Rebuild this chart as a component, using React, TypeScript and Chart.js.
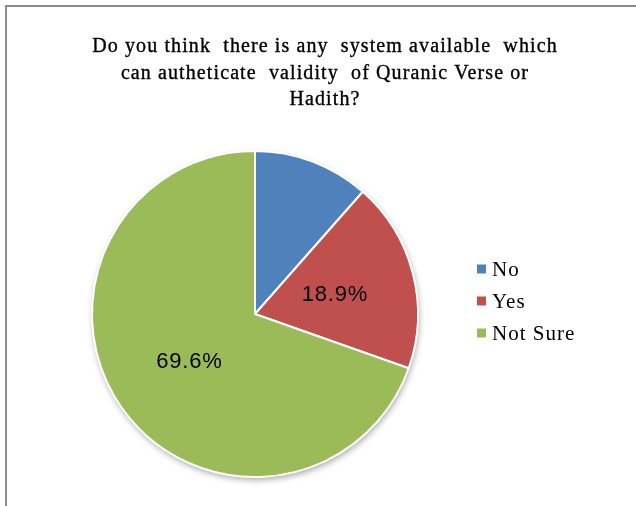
import React, { useEffect, useRef } from "react";
import { Chart, registerables } from "chart.js";

Chart.register(...registerables);

// Survey answers and their shares (%)
const answers = ["No", "Yes", "Not Sure"];
const shares = [11.5, 18.9, 69.6];
const showShareLabel = [false, true, true];
const sliceColors = ["#4F81BD", "#C0504D", "#9BBB59"];
const titleLines = [
  "Do you think  there is any  system available  which",
  "can autheticate  validity  of Quranic Verse or",
  "Hadith?",
];

const framePlugin = {
  id: "frame",
  beforeDraw(chart: any) {
    const { ctx, width, height } = chart;
    ctx.save();
    ctx.fillStyle = "#ffffff";
    ctx.fillRect(0, 0, width, height);
    ctx.fillStyle = "#8c8c8c";
    ctx.fillRect(5, 5, width - 5, 2);
    ctx.fillRect(5, 5, 2, height - 5);
    ctx.restore();
  },
};

const titlePlugin = {
  id: "surveyTitle",
  afterDraw(chart: any) {
    const { ctx } = chart;
    ctx.save();
    ctx.fillStyle = "#000";
    ctx.strokeStyle = "#000";
    ctx.lineWidth = 0.35;
    ctx.font = "20px 'Liberation Serif'";
    (ctx as any).letterSpacing = "1.1px";
    ctx.textAlign = "center";
    ctx.textBaseline = "alphabetic";
    titleLines.forEach((line, i) => {
      ctx.fillText(line, 325, 52 + i * 26.5);
      ctx.strokeText(line, 325, 52 + i * 26.5);
    });
    ctx.restore();
  },
};

const shadowPlugin = {
  id: "pieShadow",
  beforeDatasetsDraw(chart: any) {
    const arc = chart.getDatasetMeta(0).data[0];
    if (!arc) return;
    const { ctx } = chart;
    ctx.save();
    ctx.shadowColor = "rgba(0,0,0,0.35)";
    ctx.shadowBlur = 6;
    ctx.shadowOffsetX = 1;
    ctx.shadowOffsetY = 3;
    ctx.fillStyle = "#ffffff";
    ctx.beginPath();
    ctx.arc(arc.x, arc.y, arc.outerRadius, 0, Math.PI * 2);
    ctx.fill();
    ctx.restore();
  },
};

const sliceLabelPlugin = {
  id: "sliceLabels",
  afterDatasetsDraw(chart: any) {
    const { ctx } = chart;
    const meta = chart.getDatasetMeta(0);
    ctx.save();
    ctx.fillStyle = "#000";
    ctx.font = "22px 'Liberation Sans'";
    (ctx as any).letterSpacing = "0.8px";
    ctx.textAlign = "center";
    ctx.textBaseline = "middle";
    meta.data.forEach((arc: any, i: number) => {
      if (!showShareLabel[i]) return;
      const p = arc.tooltipPosition();
      ctx.fillText(shares[i].toFixed(1) + "%", p.x + 1, p.y + 1);
    });
    ctx.restore();
  },
};

const legendPlugin = {
  id: "sideLegend",
  afterDraw(chart: any) {
    const { ctx } = chart;
    ctx.save();
    ctx.font = "21px 'Liberation Serif'";
    (ctx as any).letterSpacing = "1px";
    ctx.textBaseline = "middle";
    ctx.textAlign = "left";
    answers.forEach((name, i) => {
      const y = 269 + i * 32;
      ctx.fillStyle = sliceColors[i];
      ctx.fillRect(477, y - 4.5, 9, 9);
      ctx.fillStyle = "#000";
      ctx.fillText(name, 492, y + 1);
    });
    ctx.restore();
  },
};

export default function App() {
  const canvasRef = useRef<HTMLCanvasElement | null>(null);

  useEffect(() => {
    if (!canvasRef.current) return;
    const chart = new Chart(canvasRef.current, {
      type: "pie",
      data: {
        labels: answers,
        datasets: [
          {
            data: shares,
            backgroundColor: sliceColors,
            borderColor: "#ffffff",
            borderWidth: 2,
          },
        ],
      },
      options: {
        responsive: false,
        animation: false,
        layout: { padding: { left: 91, right: 217, top: 149, bottom: 27 } },
        plugins: {
          legend: { display: false },
          title: { display: false },
          tooltip: { enabled: false },
        },
      },
      plugins: [framePlugin, shadowPlugin, sliceLabelPlugin, titlePlugin, legendPlugin],
    });
    return () => chart.destroy();
  }, []);

  return (
    <div style={{ position: "fixed", left: 0, top: 0, width: 636, height: 506 }}>
      <canvas ref={canvasRef} width={636} height={506} />
    </div>
  );
}
